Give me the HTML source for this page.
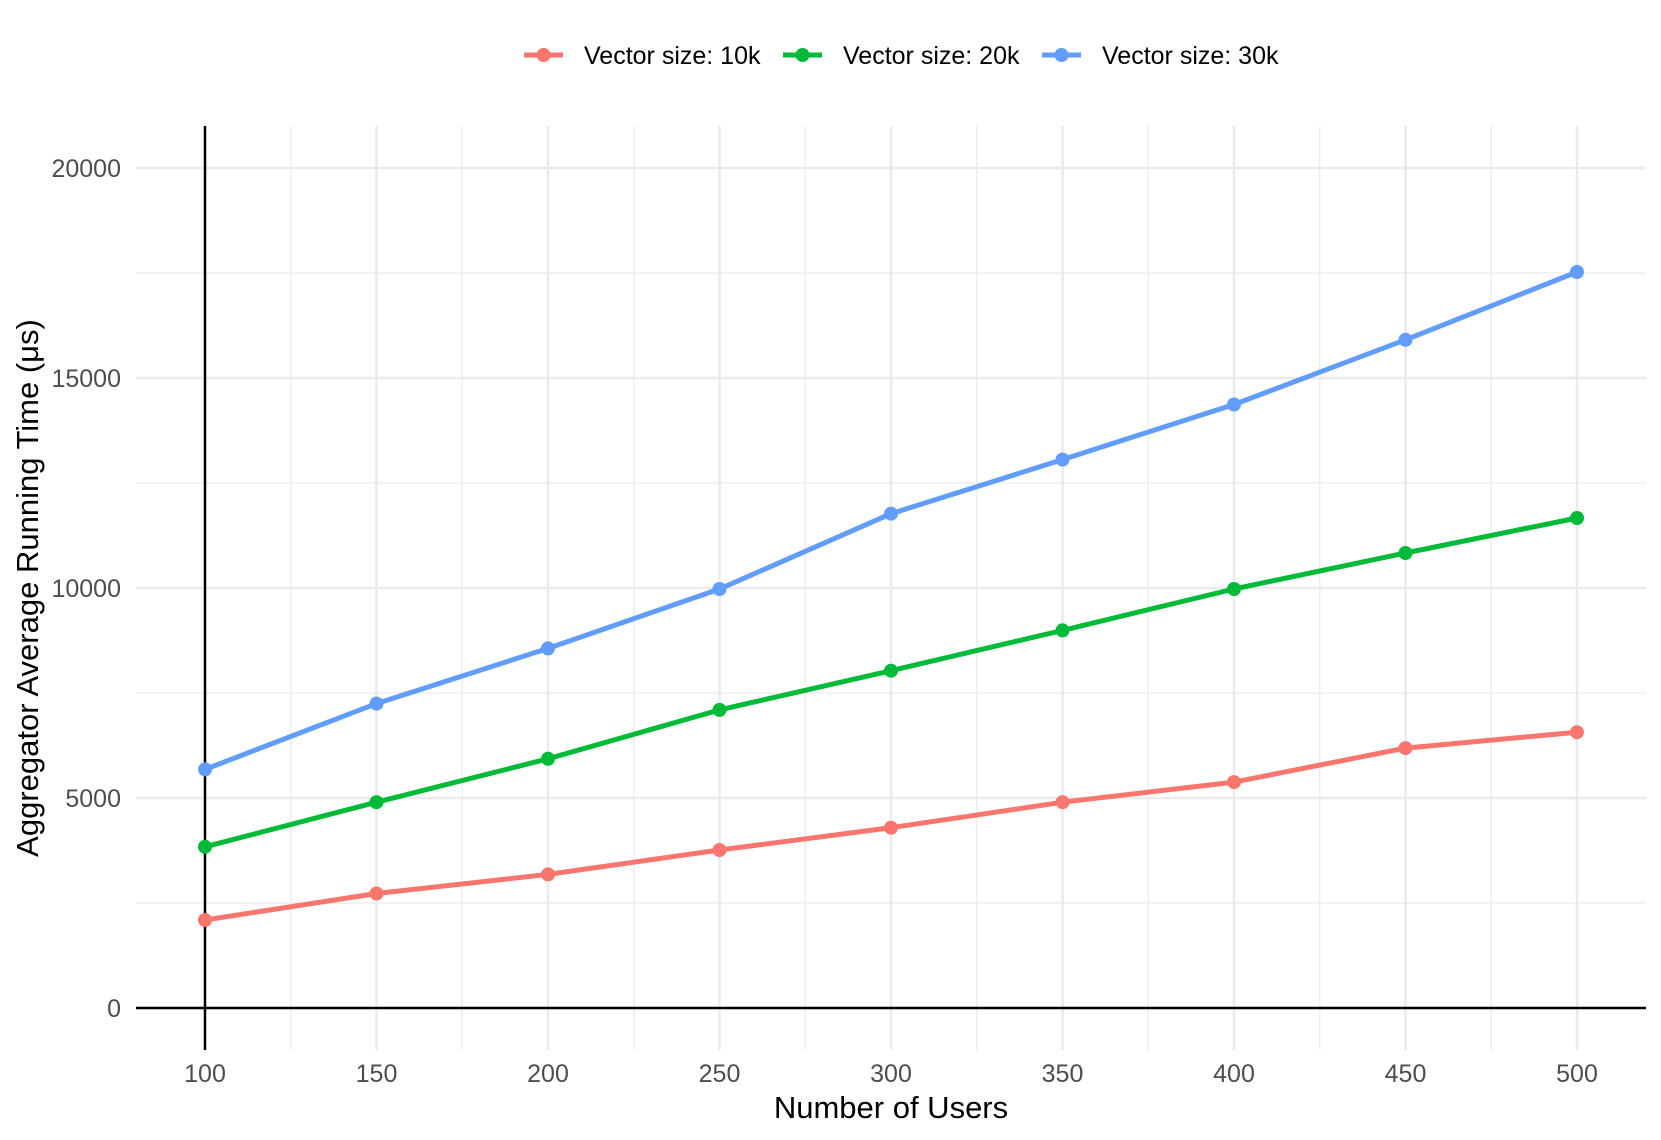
<!DOCTYPE html>
<html><head><meta charset="utf-8"><style>body{margin:0;background:#fff}svg{display:block}</style></head>
<body>
<svg width="1661" height="1140" viewBox="0 0 1661 1140" xmlns="http://www.w3.org/2000/svg" font-family="Liberation Sans, Arial, sans-serif">
<g stroke="#ebebeb" stroke-width="1.3">
<line x1="136" x2="1646" y1="903" y2="903"/><line x1="136" x2="1646" y1="693" y2="693"/><line x1="136" x2="1646" y1="483" y2="483"/><line x1="136" x2="1646" y1="273" y2="273"/>
<line x1="290.75" x2="290.75" y1="126" y2="1050"/><line x1="462.25" x2="462.25" y1="126" y2="1050"/><line x1="633.75" x2="633.75" y1="126" y2="1050"/><line x1="805.25" x2="805.25" y1="126" y2="1050"/><line x1="976.75" x2="976.75" y1="126" y2="1050"/><line x1="1148.25" x2="1148.25" y1="126" y2="1050"/><line x1="1319.75" x2="1319.75" y1="126" y2="1050"/><line x1="1491.25" x2="1491.25" y1="126" y2="1050"/>
</g>
<g stroke="#ebebeb" stroke-width="2.6">
<line x1="136" x2="1646" y1="168" y2="168"/><line x1="136" x2="1646" y1="378" y2="378"/><line x1="136" x2="1646" y1="588" y2="588"/><line x1="136" x2="1646" y1="798" y2="798"/>
<line x1="376.5" x2="376.5" y1="126" y2="1050"/><line x1="548" x2="548" y1="126" y2="1050"/><line x1="719.5" x2="719.5" y1="126" y2="1050"/><line x1="891" x2="891" y1="126" y2="1050"/><line x1="1062.5" x2="1062.5" y1="126" y2="1050"/><line x1="1234" x2="1234" y1="126" y2="1050"/><line x1="1405.5" x2="1405.5" y1="126" y2="1050"/><line x1="1577" x2="1577" y1="126" y2="1050"/>
</g>
<line x1="136" x2="1646" y1="1008" y2="1008" stroke="#000" stroke-width="2.5"/>
<line x1="205" x2="205" y1="126" y2="1050" stroke="#000" stroke-width="2.5"/>
<g fill="#4d4d4d" font-size="25" text-anchor="end">
<text x="121" y="177">20000</text><text x="121" y="387">15000</text><text x="121" y="597">10000</text><text x="121" y="807">5000</text><text x="121" y="1017">0</text>
</g>
<g fill="#4d4d4d" font-size="25" text-anchor="middle">
<text x="205" y="1082">100</text><text x="376.5" y="1082">150</text><text x="548" y="1082">200</text><text x="719.5" y="1082">250</text><text x="891" y="1082">300</text><text x="1062.5" y="1082">350</text><text x="1234" y="1082">400</text><text x="1405.5" y="1082">450</text><text x="1577" y="1082">500</text>
</g>
<text x="891" y="1118" font-size="31" text-anchor="middle">Number of Users</text>
<text transform="translate(38,588) rotate(-90)" font-size="31" text-anchor="middle">Aggregator Average Running Time (μs)</text>
<g fill="none" stroke-width="5" stroke-linejoin="round">
<polyline stroke="#f8766d" points="205,920 376.5,893.5 548,874.4 719.5,850 891,827.7 1062.5,802.2 1234,782.1 1405.5,748.1 1577,732.2"/>
<polyline stroke="#00ba38" points="205,846.8 376.5,802.2 548,758.8 719.5,709.9 891,670.7 1062.5,630.4 1234,589 1405.5,553 1577,518"/>
<polyline stroke="#619cff" points="205,769.4 376.5,703.6 548,648.4 719.5,589 891,513.7 1062.5,459.6 1234,404.5 1405.5,339.8 1577,272"/>
</g>
<g fill="#f8766d"><circle cx="205" cy="920" r="7"/><circle cx="376.5" cy="893.5" r="7"/><circle cx="548" cy="874.4" r="7"/><circle cx="719.5" cy="850" r="7"/><circle cx="891" cy="827.7" r="7"/><circle cx="1062.5" cy="802.2" r="7"/><circle cx="1234" cy="782.1" r="7"/><circle cx="1405.5" cy="748.1" r="7"/><circle cx="1577" cy="732.2" r="7"/></g>
<g fill="#00ba38"><circle cx="205" cy="846.8" r="7"/><circle cx="376.5" cy="802.2" r="7"/><circle cx="548" cy="758.8" r="7"/><circle cx="719.5" cy="709.9" r="7"/><circle cx="891" cy="670.7" r="7"/><circle cx="1062.5" cy="630.4" r="7"/><circle cx="1234" cy="589" r="7"/><circle cx="1405.5" cy="553" r="7"/><circle cx="1577" cy="518" r="7"/></g>
<g fill="#619cff"><circle cx="205" cy="769.4" r="7"/><circle cx="376.5" cy="703.6" r="7"/><circle cx="548" cy="648.4" r="7"/><circle cx="719.5" cy="589" r="7"/><circle cx="891" cy="513.7" r="7"/><circle cx="1062.5" cy="459.6" r="7"/><circle cx="1234" cy="404.5" r="7"/><circle cx="1405.5" cy="339.8" r="7"/><circle cx="1577" cy="272" r="7"/></g>
<g stroke-width="5">
<line x1="524" x2="563" y1="55" y2="55" stroke="#f8766d"/><circle cx="543.5" cy="55" r="7" fill="#f8766d"/>
<line x1="783" x2="822" y1="55" y2="55" stroke="#00ba38"/><circle cx="802.5" cy="55" r="7" fill="#00ba38"/>
<line x1="1042" x2="1081" y1="55" y2="55" stroke="#619cff"/><circle cx="1061.5" cy="55" r="7" fill="#619cff"/>
</g>
<g font-size="25">
<text x="584" y="64">Vector size: 10k</text><text x="843" y="64">Vector size: 20k</text><text x="1102" y="64">Vector size: 30k</text>
</g>
</svg>
</body></html>
